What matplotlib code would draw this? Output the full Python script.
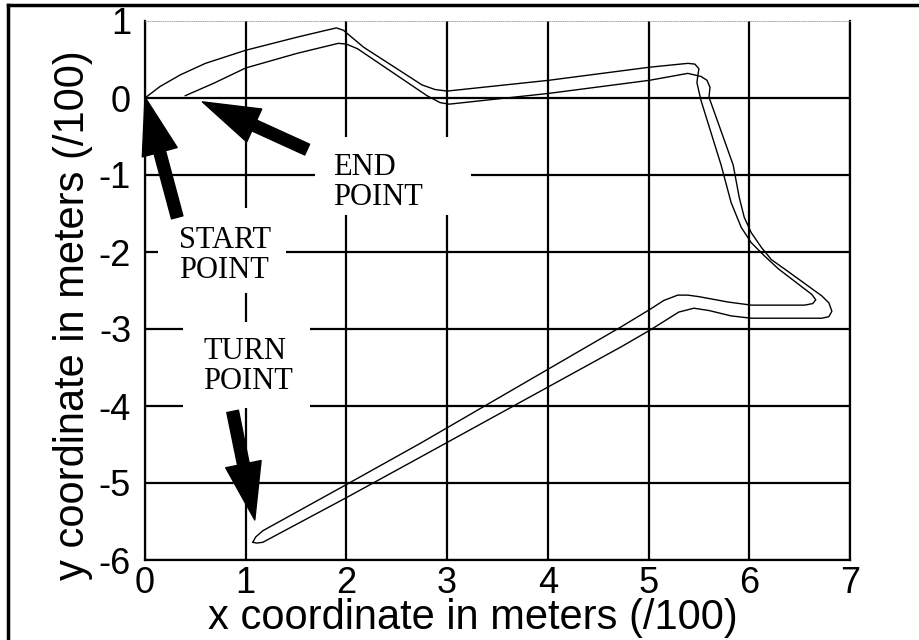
import matplotlib
matplotlib.use("Agg")
import matplotlib.pyplot as plt
from matplotlib.patches import Rectangle
from matplotlib.lines import Line2D

plt.rcParams["axes.unicode_minus"] = False

# outbound leg: start point -> turn point
out_x = [0.00, 0.15, 0.35, 0.60, 1.00, 1.51, 1.80, 1.90, 1.97, 2.17, 2.75, 2.88,
         3.00, 4.01, 5.01, 5.39, 5.46, 5.50, 5.49, 5.48, 5.52, 5.72, 5.82, 5.92,
         6.02, 6.15, 6.29, 6.62, 6.66, 6.63, 6.55, 6.02, 5.79, 5.50, 5.39, 5.29,
         5.15, 5.02, 4.73, 2.74, 2.00, 1.17, 1.10, 1.07]
out_y = [0.00, 0.15, 0.30, 0.45, 0.62, 0.79, 0.88, 0.91, 0.88, 0.66, 0.17, 0.11,
         0.09, 0.23, 0.40, 0.45, 0.44, 0.38, 0.30, 0.20, -0.03, -0.87, -1.36, -1.68,
         -1.88, -2.05, -2.22, -2.55, -2.62, -2.67, -2.69, -2.69, -2.65, -2.58, -2.56, -2.56,
         -2.63, -2.74, -2.97, -4.48, -5.02, -5.62, -5.70, -5.77]

# return leg: turn point -> end point
ret_x = [1.07, 1.11, 1.17, 2.00, 2.74, 4.73, 5.02, 5.30, 5.45, 5.60, 5.82, 6.02,
         6.72, 6.79, 6.82, 6.79, 6.72, 6.35, 6.22, 6.12, 6.02, 5.95, 5.90, 5.84,
         5.60, 5.61, 5.58, 5.52, 5.39, 5.01, 4.01, 3.02, 2.93, 2.80, 2.11, 2.00,
         1.92, 1.51, 1.00, 0.68, 0.40]
ret_y = [-5.77, -5.78, -5.77, -5.19, -4.66, -3.23, -3.01, -2.78, -2.73, -2.76, -2.83, -2.86,
         -2.86, -2.84, -2.77, -2.66, -2.57, -2.22, -2.10, -1.94, -1.75, -1.55, -1.29, -0.87,
         0.01, 0.14, 0.23, 0.28, 0.32, 0.23, 0.06, -0.08, -0.06, 0.03, 0.64, 0.70,
         0.71, 0.58, 0.39, 0.19, 0.03]

x_ticks = [0, 1, 2, 3, 4, 5, 6, 7]
y_ticks = [-6, -5, -4, -3, -2, -1, 0, 1]

TICK_SIZE = 26
LABEL_SIZE = 30
NOTE_SIZE = 22

fig = plt.figure(figsize=(9.19, 6.4), dpi=100)
ax = fig.add_axes([145 / 919, 80 / 640, 705 / 919, 539 / 640])

ax.plot(out_x, out_y, color="black", linewidth=1.0, zorder=3)
ax.plot(ret_x, ret_y, color="black", linewidth=1.0, zorder=3)

ax.set_xlim(0, 7)
ax.set_ylim(-6, 1)
ax.set_xticks(x_ticks)
ax.set_yticks(y_ticks)
ax.tick_params(length=0, labelsize=TICK_SIZE)
ax.tick_params(axis="x", pad=4)
ax.tick_params(axis="y", pad=10)
for lab in ax.get_xticklabels() + ax.get_yticklabels():
    lab.set_family("Liberation Sans")
ax.grid(True, color="black", linewidth=1.6, zorder=1)
ax.set_axisbelow(True)
ax.yaxis.get_gridlines()[-1].set_visible(False)

for s in ["left", "bottom", "right"]:
    ax.spines[s].set_linewidth(1.6)
ax.spines["top"].set_linewidth(0.6)
ax.spines["top"].set_color("#999999")
ax.spines["top"].set_linestyle(":")

ax.set_xlabel("x coordinate in meters (/100)", fontsize=LABEL_SIZE, family="Liberation Sans")
ax.set_ylabel("y coordinate in meters (/100)", fontsize=LABEL_SIZE, family="Liberation Sans")
ax.xaxis.set_label_coords(0.465, -0.07)
ax.yaxis.set_label_coords(-0.074, 0.455)

# white boxes that hide the grid behind the notes
boxes = [(1.69, -1.52, 1.55, 1.01), (0.13, -2.53, 1.27, 1.10), (0.38, -4.03, 1.26, 1.12)]
for bx, by, bw, bh in boxes:
    ax.add_patch(Rectangle((bx, by), bw, bh, facecolor="white", edgecolor="none", zorder=2))

ax.text(1.87, -1.10, "END\nPOINT", fontsize=NOTE_SIZE, family="Liberation Serif",
        ha="left", va="center", linespacing=1.05, zorder=4)
ax.text(0.34, -2.04, "START\nPOINT", fontsize=NOTE_SIZE, family="Liberation Serif",
        ha="left", va="center", linespacing=1.05, zorder=4)
ax.text(0.58, -3.49, "TURN\nPOINT", fontsize=NOTE_SIZE, family="Liberation Serif",
        ha="left", va="center", linespacing=1.05, zorder=4)

arrow = dict(facecolor="black", edgecolor="black", width=8.5, headwidth=26, headlength=41, shrink=0)
ax.annotate("", xy=(0.0, 0.01), xytext=(0.32, -1.55), arrowprops=arrow, zorder=5)
ax.annotate("", xy=(0.57, -0.05), xytext=(1.61, -0.67), arrowprops=arrow, zorder=5)
ax.annotate("", xy=(1.09, -5.48), xytext=(0.87, -4.07), arrowprops=arrow, zorder=5)

# page frame around the figure
fig.add_artist(Line2D([8 / 919, 1.0], [635 / 640, 635 / 640], color="black", linewidth=2.5))
fig.add_artist(Line2D([8 / 919, 8 / 919], [0.0, 635 / 640], color="black", linewidth=2.5))

fig.savefig("out.png", dpi=100)
